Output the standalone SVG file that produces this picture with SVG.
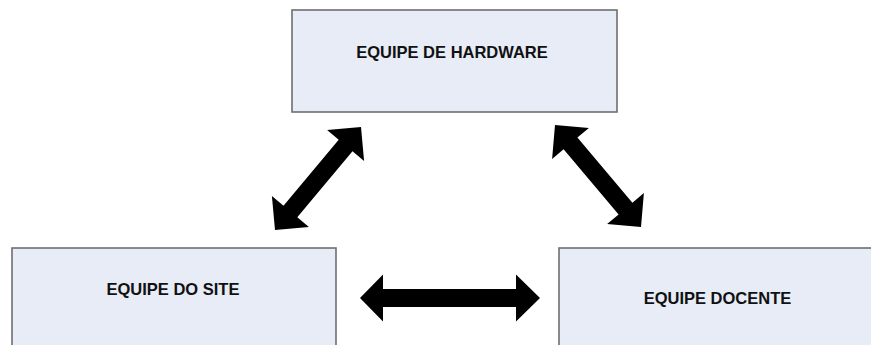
<svg xmlns="http://www.w3.org/2000/svg" width="871" height="345" viewBox="0 0 871 345">
  <style>
    .box { fill: #e7ecf6; stroke: #6f6f6f; stroke-width: 1.6; }
    .label { font-family: "Liberation Sans", Arial, sans-serif; font-weight: bold; font-size: 16.5px; fill: #111111; text-anchor: middle; }
    .arrow { fill: #000000; }
  </style>
  <rect width="871" height="345" fill="#ffffff"/>

  <g id="equipe-hardware">
    <rect class="box" x="292" y="10" width="325" height="102"/>
    <text class="label" x="452" y="58">EQUIPE DE HARDWARE</text>
  </g>

  <g id="equipe-site">
    <rect class="box" x="12" y="248" width="324" height="110"/>
    <text class="label" x="173" y="295">EQUIPE DO SITE</text>
  </g>

  <g id="equipe-docente">
    <rect class="box" x="559" y="248" width="330" height="110"/>
    <text class="label" x="717.5" y="304">EQUIPE DOCENTE</text>
  </g>

  <g id="connectors">
    <!-- site <-> hardware -->
    <polygon class="arrow" points="275,230 271.9,196.1 283.5,205.7 338.7,139.7 327.1,130.1 361,127 364.1,160.9 352.5,151.3 297.3,217.3 308.9,226.9"/>
    <!-- hardware <-> docente -->
    <polygon class="arrow" points="555,125 588.9,127.9 577.4,137.6 632.4,202.8 643.9,193.1 641,227 607.1,224.1 618.6,214.4 563.6,149.2 552.1,158.9"/>
    <!-- site <-> docente -->
    <polygon class="arrow" points="360,298 383,274.5 383,289 516,289 516,274.5 540,298 516,321.5 516,307 383,307 383,321.5"/>
  </g>
</svg>
